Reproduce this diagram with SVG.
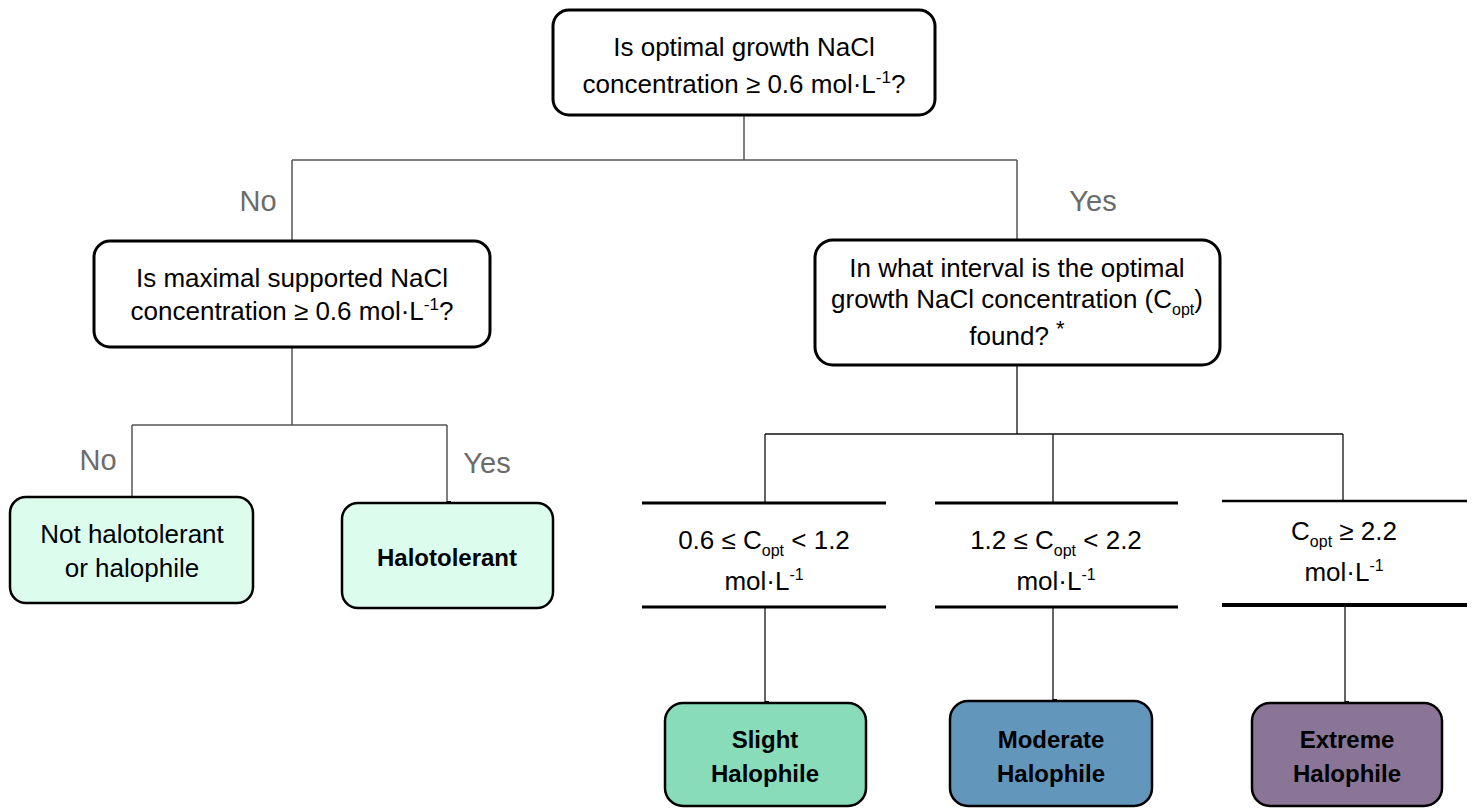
<svg xmlns="http://www.w3.org/2000/svg" width="1473" height="809" viewBox="0 0 1473 809">
<defs>
<style>
text{font-family:"Liberation Sans",Arial,sans-serif;fill:#000;text-anchor:middle}
.q{fill:#fff;stroke:#000;stroke-width:3}
.t{font-size:26px}
.b{font-size:24px;font-weight:bold}
.lbl{font-size:29px;fill:#6b6b6b}
.c1{fill:none;stroke:#555;stroke-width:1.5}
.c2{fill:none;stroke:#111;stroke-width:1.3}
.bar{stroke:#000;stroke-width:3}
.leaf{stroke:#000;stroke-width:2.5}
</style>
<marker id="sq" viewBox="0 0 4 4" refX="2" refY="4" markerWidth="4" markerHeight="4" markerUnits="userSpaceOnUse" orient="auto-start-reverse">
<rect x="0" y="0" width="4" height="4" fill="#000"/>
</marker>
</defs>
<rect width="1473" height="809" fill="#fff"/>
<g id="connectors">
<path class="c1" d="M744 115V160M292 160H1017M292 160V241M1017 160V240"/>
<path class="c1" d="M292 347V425M132 425H447"/>
<path class="c1" d="M132 425V497M447 425V503" marker-end="url(#sq)"/>
<path class="c2" d="M1017 365V434M765 434H1343M765 434V503M1053 434V503M1343 434V501"/>
<path class="c2" d="M765 607V703" marker-end="url(#sq)"/>
<path class="c2" d="M1053 607V701" marker-end="url(#sq)"/>
<path class="c2" d="M1345 605V703" marker-end="url(#sq)"/>
<text class="lbl" x="258" y="211">No</text>
<text class="lbl" x="1093" y="211">Yes</text>
<text class="lbl" x="98" y="470">No</text>
<text class="lbl" x="487" y="473">Yes</text>
</g>
<g id="q1">
<rect class="q" x="553" y="10" width="382" height="105" rx="16"/>
<text class="t" x="744" y="56">Is optimal growth NaCl</text>
<text class="t" x="744" y="93">concentration ≥ 0.6 mol·L<tspan dy="-10" font-size="17">-1</tspan><tspan dy="10">?</tspan></text>
</g>
<g id="q2">
<rect class="q" x="94" y="241" width="396" height="106" rx="16"/>
<text class="t" x="292" y="287" font-size="27">Is maximal supported NaCl</text>
<text class="t" x="292" y="320">concentration ≥ 0.6 mol·L<tspan dy="-10" font-size="17">-1</tspan><tspan dy="10">?</tspan></text>
</g>
<g id="q3">
<rect class="q" x="815" y="240" width="405" height="125" rx="18"/>
<text class="t" x="1017" y="277">In what interval is the optimal</text>
<text class="t" x="1017" y="308">growth NaCl concentration (C<tspan dy="7" font-size="16">opt</tspan><tspan dy="-7">)</tspan></text>
<text class="t" x="1017" y="345">found? <tspan dy="-9" font-size="22">*</tspan></text>
</g>
<g id="i1">
<line class="bar" x1="642" y1="503" x2="886" y2="503"/>
<line class="bar" x1="642" y1="607" x2="886" y2="607"/>
<text class="t" x="764" y="549">0.6 ≤ C<tspan dy="7" font-size="16">opt</tspan><tspan dy="-7"> &lt; 1.2</tspan></text>
<text class="t" x="764" y="590">mol·L<tspan dy="-10" font-size="16">-1</tspan></text>
</g>
<g id="i2">
<line class="bar" x1="935" y1="503" x2="1178" y2="503"/>
<line class="bar" x1="935" y1="607" x2="1178" y2="607"/>
<text class="t" x="1056" y="549">1.2 ≤ C<tspan dy="7" font-size="16">opt</tspan><tspan dy="-7"> &lt; 2.2</tspan></text>
<text class="t" x="1056" y="590">mol·L<tspan dy="-10" font-size="16">-1</tspan></text>
</g>
<g id="i3">
<line class="bar" x1="1222" y1="501" x2="1467" y2="501" style="stroke-width:2.5"/>
<line class="bar" x1="1222" y1="605" x2="1467" y2="605" style="stroke-width:4"/>
<text class="t" x="1344" y="540">C<tspan dy="7" font-size="16">opt</tspan><tspan dy="-7"> ≥ 2.2</tspan></text>
<text class="t" x="1344" y="581">mol·L<tspan dy="-10" font-size="16">-1</tspan></text>
</g>
<g id="leaf-not">
<rect class="leaf" x="10" y="497" width="243" height="106" rx="16" fill="#dcfdee"/>
<text class="t" x="132" y="543" font-size="27.5">Not halotolerant</text>
<text class="t" x="132" y="577" font-size="27.5">or halophile</text>
</g>
<g id="leaf-halotolerant">
<rect class="leaf" x="342" y="503" width="211" height="105" rx="16" fill="#dcfdee"/>
<text class="b" x="447" y="566" font-size="27">Halotolerant</text>
</g>
<g id="leaf-slight">
<rect class="leaf" x="665" y="703" width="201" height="103" rx="18" fill="#88dcba"/>
<text class="b" x="765" y="748">Slight</text>
<text class="b" x="765" y="782">Halophile</text>
</g>
<g id="leaf-moderate">
<rect class="leaf" x="950" y="701" width="202" height="105" rx="18" fill="#6396bb"/>
<text class="b" x="1051" y="748">Moderate</text>
<text class="b" x="1051" y="782">Halophile</text>
</g>
<g id="leaf-extreme">
<rect class="leaf" x="1252" y="703" width="190" height="103" rx="18" fill="#8a7596"/>
<text class="b" x="1347" y="748">Extreme</text>
<text class="b" x="1347" y="782">Halophile</text>
</g>
</svg>
